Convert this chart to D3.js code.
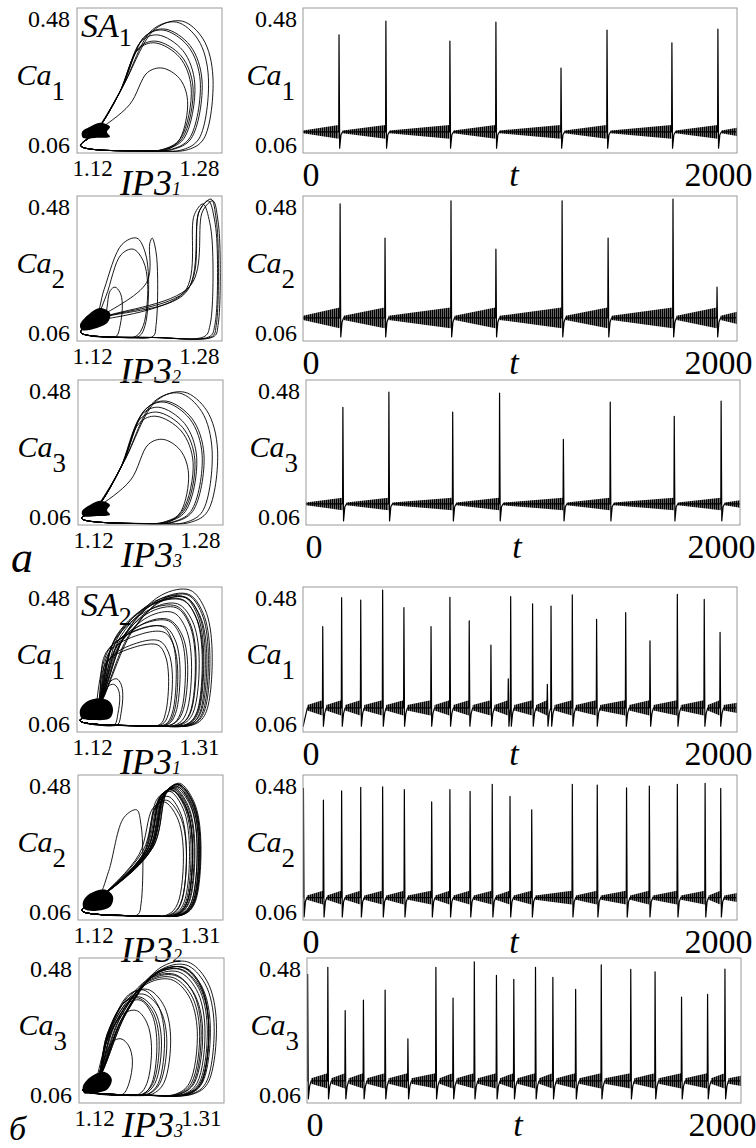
<!DOCTYPE html>
<html>
<head>
<meta charset="utf-8">
<script src="https://cdn.jsdelivr.net/npm/d3@7"></script>
<style>
  body { margin: 0; background: #fff; }
</style>
</head>
<body>
<div id="chart-container"></div>
<script>

//Values: spike times / peaks of Ca, and loop geometry in (IP3, Ca)

// --- а: SA1 ---
const tA1 = [166, 382, 677, 889, 1189, 1401, 1700, 1912];
const caA1 = [0.402, 0.442, 0.384, 0.439, 0.306, 0.416, 0.379, 0.419];
const ipPeakA1 = [1.209, 1.236, 1.207, 1.230, 1.214, 1.215, 1.206, 1.217];
const ipRightA1 = [1.250, 1.270, 1.248, 1.265, 1.242, 1.256, 1.246, 1.258];
const ipRiseA1 = [1.168, 1.170, 1.166, 1.170, 1.178, 1.168, 1.166, 1.168];
const caRiseA1 = [0.24, 0.25, 0.23, 0.25, 0.20, 0.24, 0.23, 0.24];
const blobA1 = [[1.1255, 0.121], [1.1343, 0.136], [1.1454, 0.1475], [1.1564, 0.136], [1.1531, 0.121], [1.1564, 0.107], [1.1421, 0.104], [1.1266, 0.104]];

const tA2 = [171, 378, 682, 889, 1194, 1406, 1705, 1908];
const caA2 = [0.457, 0.358, 0.466, 0.326, 0.466, 0.358, 0.471, 0.216];
const ipPeakA2 = [1.259, 1.186, 1.265, 1.182, 1.270, 1.203, 1.268, 1.162];
const ipRightA2 = [1.270, 1.199, 1.275, 1.198, 1.278, 1.209, 1.276, 1.170];
const ipRiseA2 = [1.238, 1.150, 1.242, 1.152, 1.245, 1.197, 1.240, 1.150];
const caRiseA2 = [0.20, 0.21, 0.21, 0.19, 0.22, 0.23, 0.20, 0.13];
const blobA2 = [[1.1233, 0.1063], [1.1321, 0.1353], [1.1454, 0.1556], [1.1564, 0.1411], [1.1542, 0.115], [1.1421, 0.0977], [1.1255, 0.0919]];

const tA3 = [170, 382, 676, 892, 1186, 1402, 1697, 1913];
const caA3 = [0.401, 0.445, 0.387, 0.442, 0.308, 0.416, 0.375, 0.419];
const ipPeakA3 = [1.209, 1.237, 1.207, 1.232, 1.214, 1.215, 1.206, 1.217];
const ipRightA3 = [1.251, 1.274, 1.249, 1.268, 1.242, 1.257, 1.247, 1.259];
const ipRiseA3 = [1.168, 1.170, 1.166, 1.170, 1.178, 1.168, 1.166, 1.168];
const caRiseA3 = [0.23, 0.24, 0.22, 0.24, 0.19, 0.23, 0.22, 0.23];
const blobA3 = [[1.1244, 0.100], [1.1332, 0.118], [1.1443, 0.130], [1.1553, 0.118], [1.1520, 0.103], [1.1553, 0.090], [1.1410, 0.086], [1.1255, 0.086]];

// --- б: SA2 ---
const tB1 = [91, 178, 266, 367, 465, 590, 677, 766, 866, 946, 957, 1058, 1126, 1143, 1241, 1353, 1487, 1599, 1725, 1849, 1922];
const caB1 = [0.365, 0.449, 0.442, 0.471, 0.420, 0.365, 0.450, 0.382, 0.312, 0.214, 0.452, 0.431, 0.198, 0.425, 0.457, 0.386, 0.406, 0.324, 0.459, 0.444, 0.349];
const ipPeakB1 = [1.235, 1.262, 1.258, 1.268, 1.250, 1.232, 1.263, 1.240, 1.226, 1.172, 1.260, 1.252, 1.168, 1.250, 1.265, 1.240, 1.246, 1.228, 1.266, 1.258, 1.234];
const ipRightB1 = [1.255, 1.290, 1.285, 1.297, 1.275, 1.250, 1.288, 1.262, 1.240, 1.180, 1.286, 1.280, 1.176, 1.276, 1.292, 1.265, 1.270, 1.245, 1.294, 1.284, 1.252];
const ipRiseB1 = [1.162, 1.178, 1.170, 1.185, 1.175, 1.158, 1.188, 1.165, 1.158, 1.155, 1.175, 1.180, 1.152, 1.168, 1.192, 1.170, 1.175, 1.162, 1.185, 1.172, 1.162];
const caRiseB1 = [0.30, 0.34, 0.33, 0.35, 0.32, 0.29, 0.34, 0.30, 0.26, 0.16, 0.34, 0.33, 0.15, 0.32, 0.35, 0.30, 0.31, 0.27, 0.35, 0.34, 0.29];
const blobB1 = [[1.1239, 0.1237], [1.1326, 0.1478], [1.1499, 0.1576], [1.1629, 0.1478], [1.1672, 0.1237], [1.1629, 0.0997], [1.1412, 0.0948], [1.1261, 0.0997]];

const tB2 = [2, 94, 178, 266, 367, 467, 593, 677, 770, 872, 954, 1054, 1241, 1356, 1491, 1596, 1725, 1853, 1925];
const caB2 = [0.441, 0.407, 0.434, 0.444, 0.446, 0.438, 0.402, 0.438, 0.433, 0.453, 0.418, 0.379, 0.453, 0.451, 0.443, 0.448, 0.453, 0.456, 0.441];
const ipPeakB2 = [1.245, 1.236, 1.244, 1.248, 1.250, 1.243, 1.233, 1.242, 1.240, 1.252, 1.238, 1.197, 1.251, 1.250, 1.246, 1.249, 1.252, 1.253, 1.244];
const ipRightB2 = [1.272, 1.262, 1.270, 1.276, 1.278, 1.270, 1.258, 1.268, 1.266, 1.280, 1.262, 1.205, 1.279, 1.278, 1.273, 1.276, 1.280, 1.281, 1.270];
const ipRiseB2 = [1.210, 1.205, 1.210, 1.215, 1.212, 1.208, 1.200, 1.210, 1.205, 1.218, 1.206, 1.160, 1.215, 1.214, 1.212, 1.213, 1.216, 1.218, 1.210];
const caRiseB2 = [0.26, 0.25, 0.26, 0.26, 0.26, 0.26, 0.25, 0.26, 0.26, 0.27, 0.25, 0.20, 0.27, 0.26, 0.26, 0.26, 0.27, 0.27, 0.26];
const blobB2 = [[1.1266, 0.1129], [1.1357, 0.1364], [1.1554, 0.1481], [1.1659, 0.1276], [1.1619, 0.0982], [1.1423, 0.0864], [1.1279, 0.0923]];

const tB3 = [3, 96, 176, 260, 360, 465, 594, 673, 771, 873, 953, 1053, 1133, 1238, 1356, 1492, 1604, 1726, 1846, 1926];
const caB3 = [0.433, 0.453, 0.328, 0.358, 0.387, 0.246, 0.453, 0.364, 0.469, 0.430, 0.418, 0.453, 0.424, 0.389, 0.460, 0.447, 0.440, 0.367, 0.375, 0.448];
const ipPeakB3 = [1.245, 1.258, 1.195, 1.200, 1.205, 1.175, 1.255, 1.198, 1.262, 1.245, 1.240, 1.256, 1.242, 1.210, 1.260, 1.252, 1.250, 1.200, 1.205, 1.253];
const ipRightB3 = [1.280, 1.290, 1.215, 1.222, 1.232, 1.190, 1.290, 1.225, 1.300, 1.282, 1.275, 1.292, 1.278, 1.240, 1.297, 1.288, 1.285, 1.228, 1.235, 1.290];
const ipRiseB3 = [1.165, 1.178, 1.155, 1.158, 1.160, 1.150, 1.175, 1.157, 1.182, 1.168, 1.165, 1.178, 1.167, 1.160, 1.182, 1.175, 1.172, 1.157, 1.158, 1.176];
const caRiseB3 = [0.29, 0.31, 0.23, 0.25, 0.27, 0.17, 0.31, 0.26, 0.32, 0.29, 0.28, 0.31, 0.29, 0.27, 0.32, 0.30, 0.30, 0.26, 0.26, 0.30];
const blobB3 = [[1.1252, 0.1092], [1.1369, 0.1382], [1.1538, 0.1498], [1.1629, 0.1295], [1.1577, 0.1006], [1.1408, 0.089], [1.1265, 0.089]];

// per-row levels (rows: а1 а2 а3 б1 б2 б3)
const baseCa = [0.121, 0.127, 0.121, 0.130, 0.125, 0.124];
const dipCa = [0.074, 0.072, 0.072, 0.077, 0.069, 0.072];
const startCa = [0.121, 0.127, 0.121, 0.075, 0.125, 0.124];
const bandLo = [0.004, 0.006, 0.004, 0.008, 0.006, 0.008];
const bandHi = [0.020, 0.030, 0.018, 0.022, 0.020, 0.022];
const clusterIP3 = [1.140, 1.140, 1.140, 1.145, 1.145, 1.142];
const clusterCa = [0.118, 0.120, 0.108, 0.125, 0.118, 0.118];
const bottomCa = [0.066, 0.070, 0.064, 0.078, 0.072, 0.082];
const turnIP3 = [1.124, 1.124, 1.124, 1.124, 1.125, 1.125];

// ticks and labels
const ipMin = [1.12, 1.12, 1.12, 1.12, 1.12, 1.12];
const ipMax = [1.28, 1.28, 1.28, 1.31, 1.31, 1.31];
const caTicks = [0.06, 0.48];
const tTicks = [0, 2000];
const cellNo = ["1", "2", "3", "1", "2", "3"];
const regimeRows = [0, 3];
const regimeNo = ["1", "2"];
const groupLetters = ["а", "б"];

//Layout

const rowTop = [8, 196, 380, 587, 775, 958];
const rowH = 145;
const phaseLeft = [77, 77, 78, 77, 78, 79];
const phaseW = 145;
const tsLeft = [303, 303, 306, 303, 303, 307];
const tsW = 434;
const SERIF = '"Liberation Serif"';

const spikeT = [tA1, tA2, tA3, tB1, tB2, tB3];
const spikeCa = [caA1, caA2, caA3, caB1, caB2, caB3];
const ipPeak = [ipPeakA1, ipPeakA2, ipPeakA3, ipPeakB1, ipPeakB2, ipPeakB3];
const ipRight = [ipRightA1, ipRightA2, ipRightA3, ipRightB1, ipRightB2, ipRightB3];
const ipRise = [ipRiseA1, ipRiseA2, ipRiseA3, ipRiseB1, ipRiseB2, ipRiseB3];
const caRise = [caRiseA1, caRiseA2, caRiseA3, caRiseB1, caRiseB2, caRiseB3];
const blobs = [blobA1, blobA2, blobA3, blobB1, blobB2, blobB3];

const svg = d3.select("#chart-container")
    .append("svg")
        .attr("width", 756)
        .attr("height", 1148)
        .style("display", "block");

const defs = svg.append("defs");

// dense small oscillations drawn as a fine vertical hatch
defs.append("pattern")
    .attr("id", "osc")
    .attr("patternUnits", "userSpaceOnUse")
    .attr("width", 2)
    .attr("height", 10)
  .append("rect")
    .attr("width", 1.6)
    .attr("height", 10)
    .attr("fill", "#000");

function serifText(parent) {
    return parent.append("text").style("font-family", SERIF).attr("fill", "#000");
}

function styleAxis(g, size) {
    g.attr("font-size", size);
    g.select(".domain").remove();
    g.selectAll(".tick text").attr("fill", "#000").style("font-family", SERIF);
}

function drawPhase(i) {
    const left = phaseLeft[i], top = rowTop[i];
    const x = d3.scaleLinear().domain([ipMin[i], ipMax[i]]).range([left, left + phaseW]);
    const y = d3.scaleLinear().domain(caTicks).range([top + rowH, top]);
    const g = svg.append("g");

    defs.append("clipPath").attr("id", "clipP" + i)
      .append("rect").attr("x", left).attr("y", top).attr("width", phaseW).attr("height", rowH);
    const plot = g.append("g").attr("clip-path", `url(#clipP${i})`);

    //cloud of small loops near the resting state
    plot.append("path")
        .datum(blobs[i])
        .attr("d", d3.line().x(d => x(d[0])).y(d => y(d[1])).curve(d3.curveCatmullRomClosed))
        .attr("fill", "#000");

    //one loop for every spike
    const x0 = clusterIP3[i], y0 = clusterCa[i], yb = bottomCa[i];
    const pts = [];
    spikeCa[i].forEach((yp, k) => {
        const xp = ipPeak[i][k], xr = ipRight[i][k];
        const xb = ipRise[i][k], ybr = caRise[i][k];
        const w = xr - xp, h = yp - y0;
        pts.push(
            [x0, y0],
            [xb, ybr],
            [xp - 0.45 * (xp - xb), yp - 0.12 * (yp - ybr)],
            [xp, yp],
            [xp + 0.68 * w, yp - 0.16 * h],
            [xr, y0 + 0.5 * h],
            [xr - 0.3 * w, yb + 0.035],
            [xr - 0.8 * w, yb + 0.004],
            [(x0 + xr) / 2, yb],
            [turnIP3[i], yb + 0.015]
        );
    });
    pts.push([x0, y0]);

    plot.append("path")
        .datum(pts)
        .attr("d", d3.line().x(d => x(d[0])).y(d => y(d[1])).curve(d3.curveCatmullRom.alpha(0.5)))
        .attr("fill", "none")
        .attr("stroke", "#000")
        .attr("stroke-width", 0.9);

    g.append("rect")
        .attr("x", left).attr("y", top).attr("width", phaseW).attr("height", rowH)
        .attr("fill", "none").attr("stroke", "#9a9a9a").attr("stroke-width", 1);

    //x ticks
    const gx = g.append("g")
        .attr("transform", `translate(0,${top + rowH})`)
        .call(d3.axisBottom(x).tickValues([ipMin[i], ipMax[i]]).tickSize(0).tickFormat(d3.format(".2f")));
    styleAxis(gx, 23);
    gx.selectAll(".tick text")
        .attr("y", 23).attr("dy", 0)
        .attr("text-anchor", (d, j) => j ? "end" : "start")
        .attr("x", (d, j) => j ? -3 : -5);

    //y ticks
    const gy = g.append("g")
        .attr("transform", `translate(${left},0)`)
        .call(d3.axisLeft(y).tickValues(caTicks).tickSize(0).tickPadding(7));
    styleAxis(gy, 24);
    gy.selectAll(".tick text").attr("dy", d => d === caTicks[1] ? "0.76em" : "-0.04em");

    //axis names
    const cy = serifText(g)
        .attr("x", left - 12).attr("y", top + rowH / 2 + 4)
        .attr("text-anchor", "end");
    cy.append("tspan").attr("font-style", "italic").attr("font-size", 30).text("Ca");
    cy.append("tspan").attr("font-size", 27).attr("dy", 15).text(cellNo[i]);

    const cx = serifText(g)
        .attr("x", left + 43).attr("y", Math.min(top + rowH + 42, 1137))
        .attr("font-style", "italic");
    cx.append("tspan").attr("font-size", 36).text("IP3");
    cx.append("tspan").attr("font-size", 18).text(cellNo[i]);

    const r = regimeRows.indexOf(i);
    if (r >= 0) {
        const sa = serifText(g).attr("x", left + 4).attr("y", top + 29);
        sa.append("tspan").attr("font-style", "italic").attr("font-size", 34).text("SA");
        sa.append("tspan").attr("font-size", 26).attr("dy", 9).text(regimeNo[r]);
    }
}

function drawSeries(i) {
    const left = tsLeft[i], top = rowTop[i];
    const x = d3.scaleLinear().domain(tTicks).range([left, left + tsW]);
    const y = d3.scaleLinear().domain(caTicks).range([top + rowH, top]);
    const g = svg.append("g");

    defs.append("clipPath").attr("id", "clipT" + i)
      .append("rect").attr("x", left).attr("y", top).attr("width", tsW).attr("height", rowH);
    const plot = g.append("g").attr("clip-path", `url(#clipT${i})`);

    const times = spikeT[i], peaks = spikeCa[i];
    const base = baseCa[i], lo = bandLo[i], hi = bandHi[i];

    //band of fast small oscillations between spikes, growing before each spike
    const segs = [];
    const t0 = startCa[i] === base ? 0 : 20;
    segs.push([[t0, base, lo], [times[0] - 2, base, hi]]);
    times.forEach((t, k) => {
        const next = k + 1 < times.length ? times[k + 1] - 2 : tTicks[1];
        if (next - (t + 16) > 4) {
            segs.push([[t + 16, base, lo], [next, base, k + 1 < times.length ? hi : (lo + hi) / 2]]);
        }
    });

    const band = d3.area()
        .x(d => x(d[0]))
        .y0(d => y(d[1] - d[2]))
        .y1(d => y(d[1] + d[2]));

    plot.selectAll(".band")
        .data(segs)
        .join("path")
        .attr("class", "band")
        .attr("d", band)
        .attr("fill", "url(#osc)");

    //the Ca trace itself
    const pts = [[0, startCa[i]]];
    if (t0 > 0) pts.push([t0, base]);
    times.forEach((t, k) => {
        const next = k + 1 < times.length ? times[k + 1] : tTicks[1] + 20;
        pts.push([t - 1.5, base], [t, peaks[k]]);
        [[t + 3, dipCa[i]], [t + 9, base - 2 * lo], [t + 16, base]]
            .filter(p => p[0] < next - 2)
            .forEach(p => pts.push(p));
    });
    pts.push([tTicks[1], base]);

    plot.append("path")
        .datum(pts)
        .attr("d", d3.line().x(d => x(d[0])).y(d => y(d[1])))
        .attr("fill", "none")
        .attr("stroke", "#000")
        .attr("stroke-width", 1.2)
        .attr("stroke-linejoin", "round");

    g.append("rect")
        .attr("x", left).attr("y", top).attr("width", tsW).attr("height", rowH)
        .attr("fill", "none").attr("stroke", "#9a9a9a").attr("stroke-width", 1);

    const gx = g.append("g")
        .attr("transform", `translate(0,${top + rowH})`)
        .call(d3.axisBottom(x).tickValues(tTicks).tickSize(0).tickFormat(d3.format("d")));
    styleAxis(gx, 34);
    gx.selectAll(".tick text")
        .attr("y", 33).attr("dy", 0)
        .attr("text-anchor", (d, j) => j ? "end" : "start")
        .attr("x", (d, j) => j ? 15 : -1);

    const gy = g.append("g")
        .attr("transform", `translate(${left},0)`)
        .call(d3.axisLeft(y).tickValues(caTicks).tickSize(0).tickPadding(6));
    styleAxis(gy, 24);
    gy.selectAll(".tick text").attr("dy", d => d === caTicks[1] ? "0.76em" : "-0.04em");

    const cy = serifText(g)
        .attr("x", left - 8).attr("y", top + rowH / 2 + 4)
        .attr("text-anchor", "end");
    cy.append("tspan").attr("font-style", "italic").attr("font-size", 30).text("Ca");
    cy.append("tspan").attr("font-size", 27).attr("dy", 15).text(cellNo[i]);

    serifText(g)
        .attr("x", left + tsW / 2 - 6).attr("y", top + rowH + 33)
        .attr("text-anchor", "middle")
        .attr("font-style", "italic").attr("font-size", 34)
        .text("t");
}

for (let i = 0; i < 6; i++) {
    drawPhase(i);
    drawSeries(i);
}

//group letters under the third row of each group
serifText(svg)
    .attr("x", 11).attr("y", 572)
    .attr("font-style", "italic").attr("font-size", 44)
    .text(groupLetters[0]);

serifText(svg)
    .attr("x", 9).attr("y", 1140)
    .attr("font-style", "italic").attr("font-size", 34)
    .text(groupLetters[1]);

</script>
</body>
</html>
